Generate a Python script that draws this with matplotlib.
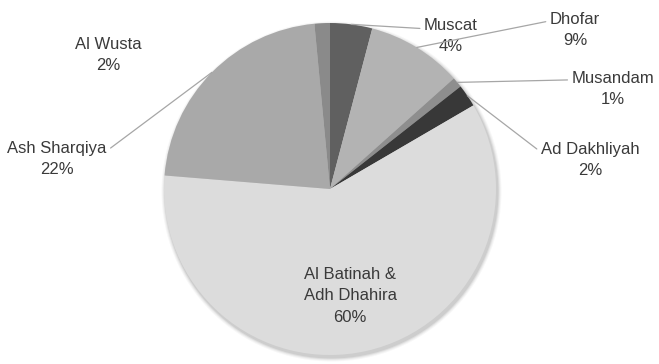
import matplotlib
matplotlib.use('Agg')
import matplotlib.pyplot as plt
import numpy as np
from matplotlib.patches import Circle

regions = ['Muscat', 'Dhofar', 'Musandam', 'Ad Dakhliyah',
           'Al Batinah &\nAdh Dhahira', 'Ash Sharqiya', 'Al Wusta']
shares = [4.1, 9.3, 1.0, 2.2, 59.7, 22.2, 1.5]
pct_labels = ['4%', '9%', '1%', '2%', '60%', '22%', '2%']
colors = ['#606060', '#b3b3b3', '#8e8e8e', '#383838', '#dcdcdc', '#a9a9a9', '#8a8a8a']

W, H = 659, 364
fig = plt.figure(figsize=(W / 100, H / 100), dpi=100)
ax = fig.add_axes([0, 0, 1, 1])

cx, cy, r = 330, 364 - 189, 166

# soft shadow under the pie
for k, a in enumerate([0.08, 0.06, 0.04, 0.03]):
    ax.add_patch(Circle((cx + 1.5, cy - 2.5), r + 1 + k, color='#000000', alpha=a, lw=0, zorder=0))

wedges, _ = ax.pie(shares, colors=colors, startangle=90, counterclock=False,
                   center=(cx, cy), radius=r, wedgeprops=dict(linewidth=0), frame=True)
ax.set_xlim(0, W)
ax.set_ylim(0, H)
ax.set_aspect('equal')
ax.axis('off')

# label text positions (pixels, top-left origin) and whether to draw a leader line
label_pos = [(451, 36), (575, 30), (613, 89), (590, 160), (350, 296), (57, 159), (108, 55)]
leader = [True, True, True, True, False, True, False]
relpos = [(0, 0.7), (0, 0.75), (0, 0.75), (0, 0.72), None, (1, 0.72), None]

font = dict(family='Liberation Sans', fontsize=12, color='#3a3a3a')

for w, name, pct, (tx, ty), ld, rp in zip(wedges, regions, pct_labels, label_pos, leader, relpos):
    mid = np.deg2rad((w.theta1 + w.theta2) / 2)
    ex, ey = cx + r * np.cos(mid), cy + r * np.sin(mid)
    txt = name + '\n' + pct
    if ld:
        ax.annotate(txt, xy=(ex, ey), xytext=(tx, H - ty), ha='center', va='center',
                    linespacing=1.55, **font,
                    arrowprops=dict(arrowstyle='-', color='#a6a6a6', lw=0.9,
                                    shrinkA=1, shrinkB=0, relpos=rp))
    else:
        ax.text(tx, H - ty, txt, ha='center', va='center', linespacing=1.55, **font)

fig.savefig('out.png', dpi=100)
